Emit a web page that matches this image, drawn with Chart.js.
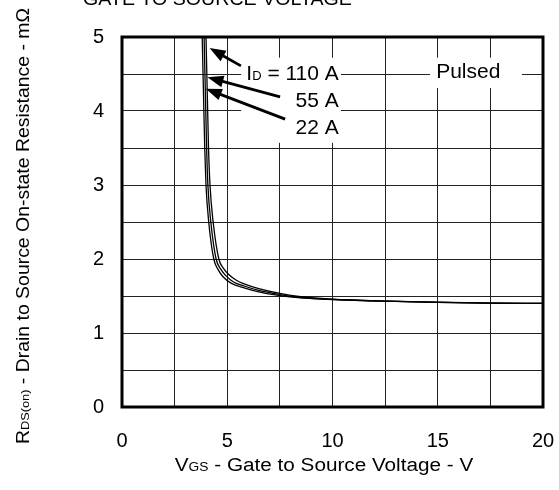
<!DOCTYPE html>
<html>
<head>
<meta charset="utf-8">
<script src="https://cdn.jsdelivr.net/npm/chart.js@4/dist/chart.umd.min.js"></script>
<style>
  body { margin: 0; background: #fff; }
  canvas { display: block; }
</style>
</head>
<body>
<canvas id="grafico" width="559" height="490"></canvas>
<script>
// curvas RDS(on) x VGS
var vgs22 = [3.81, 3.85, 3.89, 3.93, 3.99, 4.12, 4.36, 4.58, 4.8, 5.2, 5.8, 6.5, 7.5, 8.5, 10, 12.5, 15, 17.5, 20];
var rds22 = [5.0, 4.5, 4.0, 3.5, 3.0, 2.5, 2.0, 1.85, 1.76, 1.67, 1.61, 1.555, 1.505, 1.475, 1.453, 1.43, 1.415, 1.405, 1.40];
var vgs55 = [3.90, 3.94, 3.98, 4.02, 4.08, 4.22, 4.47, 4.7, 4.93, 5.3, 5.8, 6.5, 7.5, 8.5, 10, 12.5, 15, 17.5, 20];
var rds55 = [5.0, 4.5, 4.0, 3.5, 3.0, 2.5, 2.0, 1.86, 1.775, 1.69, 1.635, 1.575, 1.52, 1.48, 1.455, 1.43, 1.415, 1.405, 1.40];
var vgs110 = [3.99, 4.03, 4.07, 4.11, 4.18, 4.33, 4.6, 4.83, 5.07, 5.45, 5.8, 6.5, 7.5, 8.5, 10, 12.5, 15, 17.5, 20];
var rds110 = [5.0, 4.5, 4.0, 3.5, 3.0, 2.5, 2.0, 1.87, 1.79, 1.71, 1.665, 1.6, 1.535, 1.49, 1.458, 1.432, 1.416, 1.405, 1.40];

var xTicks = [0, 5, 10, 15, 20];
var yTicks = [0, 1, 2, 3, 4, 5];

// setas das legendas: [vgs, rds] inicio -> ponta
var setas = [
    { de: [5.65, 4.61], para: [4.16, 4.85] },
    { de: [7.51, 4.19], para: [4.06, 4.455] },
    { de: [7.75, 3.89], para: [3.98, 4.30] }
];

var FONTE = '"Liberation Sans", Arial, sans-serif';

function pontos(xs, ys){
    return xs.map(function(v, i){ return { x: v, y: ys[i] }; });
}

function serie(nome, xs, ys){
    return {
        label: nome,
        data: pontos(xs, ys),
        showLine: true,
        borderColor: '#000',
        borderWidth: 1.3,
        pointRadius: 0,
        cubicInterpolationMode: 'monotone',
        fill: false
    };
}

// escreve texto com partes subscritas
function textoPartes(ctx, partes, x, y, alinhar){
    var total = 0;
    partes.forEach(function(p){
        ctx.font = p.tam + 'px ' + FONTE;
        p.w = ctx.measureText(p.t).width;
        total += p.w;
    });
    var cx = x;
    if(alinhar == 'center') cx = x - total / 2;
    if(alinhar == 'right') cx = x - total;
    ctx.textAlign = 'left';
    ctx.textBaseline = 'middle';
    partes.forEach(function(p){
        ctx.font = p.tam + 'px ' + FONTE;
        ctx.fillText(p.t, cx, y + (p.dy || 0));
        cx += p.w;
    });
}

function seta(ctx, x1, y1, x2, y2){
    var ang = Math.atan2(y2 - y1, x2 - x1);
    var comp = 16, larg = 6;
    ctx.strokeStyle = '#000';
    ctx.lineWidth = 2.8;
    ctx.beginPath();
    ctx.moveTo(x1, y1);
    ctx.lineTo(x2 - Math.cos(ang) * comp * 0.8, y2 - Math.sin(ang) * comp * 0.8);
    ctx.stroke();
    ctx.fillStyle = '#000';
    ctx.beginPath();
    ctx.moveTo(x2, y2);
    ctx.lineTo(x2 - Math.cos(ang) * comp - Math.sin(ang) * larg, y2 - Math.sin(ang) * comp + Math.cos(ang) * larg);
    ctx.lineTo(x2 - Math.cos(ang) * comp + Math.sin(ang) * larg, y2 - Math.sin(ang) * comp - Math.cos(ang) * larg);
    ctx.closePath();
    ctx.fill();
}

var anotacoes = {
    id: 'anotacoes',
    beforeDatasetsDraw: function(chart){
        var ctx = chart.ctx, sx = chart.scales.x, sy = chart.scales.y;
        ctx.save();
        ctx.fillStyle = '#fff';
        // caixas brancas atras dos textos
        var x1 = sx.getPixelForValue(5.66), x2 = sx.getPixelForValue(10.4);
        var y1 = sy.getPixelForValue(4.72), y2 = sy.getPixelForValue(3.57);
        ctx.fillRect(x1, y1, x2 - x1, y2 - y1);
        x1 = sx.getPixelForValue(14.63); x2 = sx.getPixelForValue(19.0);
        y1 = sy.getPixelForValue(4.72); y2 = sy.getPixelForValue(4.31);
        ctx.fillRect(x1, y1, x2 - x1, y2 - y1);
        ctx.restore();
    },
    afterDatasetsDraw: function(chart){
        var ctx = chart.ctx, sx = chart.scales.x, sy = chart.scales.y;
        var a = chart.chartArea;
        ctx.save();
        // moldura
        ctx.strokeStyle = '#000';
        ctx.lineWidth = 3;
        ctx.strokeRect(a.left, a.top, a.right - a.left, a.bottom - a.top);

        ctx.fillStyle = '#000';
        var xr = sx.getPixelForValue(10.3);
        textoPartes(ctx, [{t: 'I', tam: 21}, {t: 'D', tam: 13, dy: 2}, {t: ' = 110 A', tam: 21}], xr, sy.getPixelForValue(4.5), 'right');
        textoPartes(ctx, [{t: '55 A', tam: 21}], xr, sy.getPixelForValue(4.13), 'right');
        textoPartes(ctx, [{t: '22 A', tam: 21}], xr, sy.getPixelForValue(3.77), 'right');
        textoPartes(ctx, [{t: 'Pulsed', tam: 21}], sx.getPixelForValue(16.45), sy.getPixelForValue(4.53), 'center');

        setas.forEach(function(s){
            seta(ctx, sx.getPixelForValue(s.de[0]), sy.getPixelForValue(s.de[1]),
                 sx.getPixelForValue(s.para[0]), sy.getPixelForValue(s.para[1]));
        });

        // titulo cortado no topo
        ctx.save();
        ctx.translate(83, 5);
        ctx.scale(1.09, 1);
        ctx.font = '18px ' + FONTE;
        ctx.textAlign = 'left';
        ctx.textBaseline = 'alphabetic';
        ctx.fillText('GATE TO SOURCE VOLTAGE', 0, 0);
        ctx.restore();

        // titulo eixo x
        ctx.save();
        ctx.translate(324, 466);
        ctx.scale(1.15, 1);
        textoPartes(ctx, [{t: 'V', tam: 18}, {t: 'GS', tam: 12, dy: 2}, {t: ' - Gate to Source Voltage - V', tam: 18}], 0, 0, 'center');
        ctx.restore();

        // titulo eixo y
        ctx.save();
        ctx.translate(24, 226);
        ctx.rotate(-Math.PI / 2);
        ctx.scale(1.11, 1);
        textoPartes(ctx, [{t: 'R', tam: 17.5}, {t: 'DS(on)', tam: 11.5, dy: 2}, {t: ' - Drain to Source On-state Resistance - m\u03A9', tam: 17.5}], 0, 0, 'center');
        ctx.restore();

        ctx.restore();
    }
};

var ctx = document.getElementById('grafico');
var grafico = new Chart(ctx, {
    type: 'scatter',
    data: {
        datasets: [
            serie('110 A', vgs110, rds110),
            serie('55 A', vgs55, rds55),
            serie('22 A', vgs22, rds22)
        ]
    },
    options: {
        responsive: false,
        animation: false,
        layout: { padding: { top: 37, right: 0, left: 0, bottom: 0 } },
        plugins: {
            legend: { display: false },
            tooltip: { enabled: false }
        },
        scales: {
            x: {
                min: 0,
                max: 20,
                afterFit: function(s){ s.height = 83; s.paddingRight = 16; },
                grid: { color: '#222', lineWidth: 1, drawTicks: false },
                border: { display: false },
                ticks: {
                    stepSize: 2.5,
                    padding: 22,
                    color: '#000',
                    font: { family: FONTE, size: 20 },
                    maxRotation: 0,
                    callback: function(v){ return xTicks.indexOf(v) >= 0 ? String(v) : ''; }
                }
            },
            y: {
                min: 0,
                max: 5,
                afterFit: function(s){ s.width = 122; },
                grid: { color: '#222', lineWidth: 1, drawTicks: false },
                border: { display: false },
                ticks: {
                    stepSize: 0.5,
                    padding: 18,
                    color: '#000',
                    font: { family: FONTE, size: 20 },
                    callback: function(v){ return yTicks.indexOf(v) >= 0 ? String(v) : ''; }
                }
            }
        }
    },
    plugins: [anotacoes]
});
</script>
</body>
</html>
